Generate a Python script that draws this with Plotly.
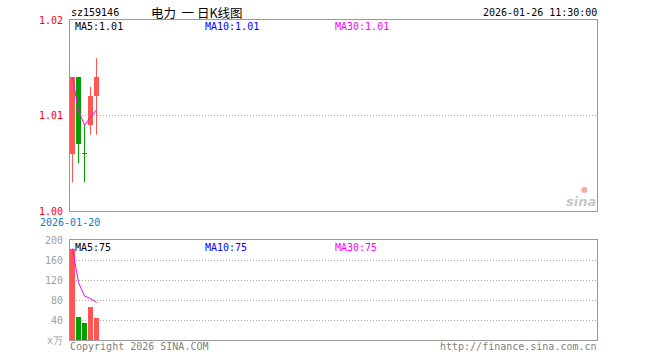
import plotly.graph_objects as go

# ---- data ----
dates = ["2026-01-20", "2026-01-21", "2026-01-22", "2026-01-23", "2026-01-26"]
opens = [1.006, 1.014, 1.006, 1.009, 1.012]
highs = [1.014, 1.014, 1.009, 1.013, 1.016]
lows = [1.003, 1.005, 1.003, 1.008, 1.008]
closes = [1.014, 1.007, 1.006, 1.012, 1.014]
volumes = [183, 47, 34, 67, 44]
price_ticks = [1.00, 1.01, 1.02]
vol_ticks = [0, 40, 80, 120, 160, 200]
vol_ticktext = ["x万", "40", "80", "120", "160", "200"]

W, H = 660, 360
L, R = 70, 597
MT, MB = 20, 211
VT, VB = 240, 340
SLOT = 6.0
nslots = (R - L) / SLOT
x0 = -2.5 / SLOT
xrange_ = [x0, x0 + nslots]

RED = "#ff5555"
GREEN = "#00a000"
MAG = "#ff00ff"
BLUE = "#0000ff"
GRID = "#a8a8a8"
BORDER = "#999999"
FONT = "DejaVu Sans Mono"

xs = list(range(len(dates)))
cols = [RED if c > o else GREEN for o, c in zip(opens, closes)]

# moving averages (few days only -> cumulative mean)
ma_p = [sum(closes[:i + 1]) / (i + 1) for i in range(len(closes))]
ma_v = [sum(volumes[:i + 1]) / (i + 1) for i in range(len(volumes))]

fig = go.Figure()

# wicks
for i in xs:
    fig.add_trace(go.Scatter(x=[i, i], y=[lows[i], highs[i]], mode="lines",
                             line=dict(color=cols[i], width=1), hoverinfo="skip",
                             showlegend=False, xaxis="x", yaxis="y"))
# bodies
min_h = 0.00011
fig.add_trace(go.Bar(x=xs, base=[min(o, c) for o, c in zip(opens, closes)],
                     y=[max(abs(c - o), min_h) for o, c in zip(opens, closes)],
                     width=5 / SLOT, marker=dict(color=cols, line=dict(width=0)),
                     hoverinfo="skip", showlegend=False, xaxis="x", yaxis="y"))
# MA line (price)
fig.add_trace(go.Scatter(x=xs, y=ma_p, mode="lines", line=dict(color=MAG, width=1),
                         hoverinfo="skip", showlegend=False, xaxis="x", yaxis="y"))

# volume bars
fig.add_trace(go.Bar(x=xs, y=volumes, width=5 / SLOT,
                     marker=dict(color=cols, line=dict(width=0)),
                     hoverinfo="skip", showlegend=False, xaxis="x2", yaxis="y2"))
fig.add_trace(go.Scatter(x=xs, y=ma_v, mode="lines", line=dict(color=MAG, width=1),
                         hoverinfo="skip", showlegend=False, xaxis="x2", yaxis="y2"))


def px(x):
    return x / W


def py(y):
    return 1 - y / H


axis_common = dict(showline=True, linecolor=BORDER, linewidth=1, mirror=True,
                   zeroline=False, fixedrange=True, automargin=False)

fig.update_layout(
    width=W, height=H, margin=dict(l=0, r=0, t=0, b=0, pad=0),
    paper_bgcolor="white", plot_bgcolor="white", bargap=0,
    xaxis=dict(domain=[px(L), px(R)], range=xrange_, showticklabels=False,
               showgrid=False, ticks="", **axis_common),
    yaxis=dict(domain=[py(MB), py(MT)], range=[1.00, 1.02], tickvals=price_ticks,
               tickformat=".2f", tickfont=dict(family=FONT, size=10, color="#ff0000"),
               ticks="", ticklabelstandoff=4, showgrid=True, gridcolor=GRID,
               griddash="1px,2px", gridwidth=1, **axis_common),
    xaxis2=dict(domain=[px(L), px(R)], range=xrange_, showticklabels=False,
                showgrid=False, ticks="", anchor="y2", **axis_common),
    yaxis2=dict(domain=[py(VB), py(VT)], range=[0, 200], tickvals=vol_ticks,
                ticktext=vol_ticktext, anchor="x2",
                tickfont=dict(family=FONT, size=10, color="#a0a0a0"),
                ticks="", ticklabelstandoff=4, showgrid=True, gridcolor=GRID,
                griddash="1px,2px", gridwidth=1, **axis_common),
)


def ann(text, x, y, color="black", size=10, xanchor="left", family=FONT, **kw):
    fig.add_annotation(text=text, x=px(x), y=py(y), xref="paper", yref="paper",
                       showarrow=False, xanchor=xanchor, yanchor="middle",
                       font=dict(family=family, size=size, color=color), **kw)


last_p = f"{ma_p[-1]:.2f}"
last_v = f"{ma_v[-1]:.0f}"
ann("sz159146", 69, 13)
ann("电力&nbsp;&nbsp;一&nbsp;日K线图", 149, 13, size=12.5, family="Noto Sans CJK SC")
ann("2026-01-26 11:30:00", 599, 13, xanchor="right")
ann(f"MA5:{last_p}", 73, 27)
ann(f"MA10:{last_p}", 203, 27, color=BLUE)
ann(f"MA30:{last_p}", 333, 27, color=MAG)
ann(f"MA5:{last_v}", 73, 247)
ann(f"MA10:{last_v}", 203, 247, color=BLUE)
ann(f"MA30:{last_v}", 333, 247, color=MAG)
ann(dates[0], 70, 222, color="#0080d0", xanchor="center")
ann("Copyright 2026 SINA.COM", 68, 346, color="#808080")
ann("http://finance.sina.com.cn", 599, 346, color="#808080", xanchor="right")
ann("<b><i>sina</i></b>", 598, 201, color="#c8c8c8", size=13, xanchor="right",
    family="DejaVu Sans")
ann("●", 584, 189, color="#f5a8a8", size=8, xanchor="center", family="DejaVu Sans")

fig.write_html("out.html", config={"displayModeBar": False, "staticPlot": True},
               post_script="document.body.style.margin='0';")
